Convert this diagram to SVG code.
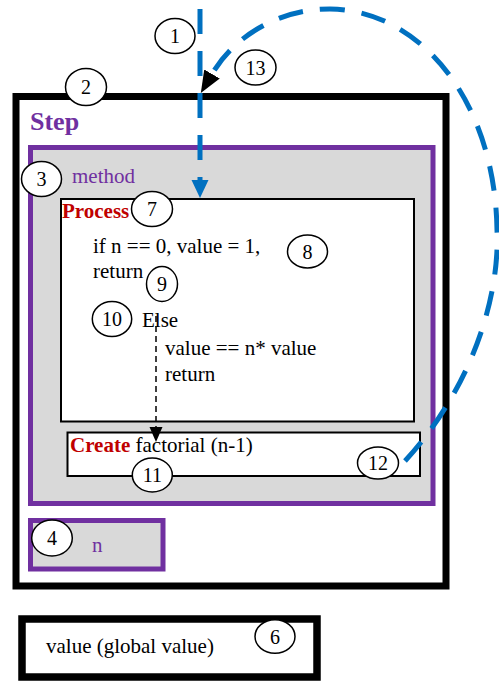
<svg xmlns="http://www.w3.org/2000/svg" width="499" height="681" viewBox="0 0 499 681">
<style>
text{font-family:"Liberation Serif","Times New Roman",serif;font-size:21px;fill:#000}
.purple{fill:#7030a0}
.red{fill:#c00000;font-weight:bold}
.num{font-size:20px;text-anchor:middle}
.circ{fill:#fff;stroke:#000;stroke-width:1.5}
.blk{fill:none;stroke:#000;stroke-width:7}
.pbox{fill:#d9d9d9;stroke:#7030a0;stroke-width:5}
.wbox{fill:#fff;stroke:#000;stroke-width:2}
.blue{fill:none;stroke:#0070c0;stroke-width:5;stroke-dasharray:25 17}
</style>
<defs>
<marker id="ab" markerUnits="userSpaceOnUse" markerWidth="18" markerHeight="18" refX="0" refY="8.5" orient="auto" viewBox="0 0 18 17"><path d="M0,0 L18,8.5 L0,17 z" fill="#0070c0"/></marker>
<marker id="ak" markerUnits="userSpaceOnUse" markerWidth="22" markerHeight="19" refX="0" refY="9" orient="auto" viewBox="0 0 22 18"><path d="M0,0 L22,9 L0,18 z" fill="#000"/></marker>
<marker id="as" markerUnits="userSpaceOnUse" markerWidth="15" markerHeight="14" refX="0" refY="6.5" orient="auto" viewBox="0 0 15 13"><path d="M0,0 L15,6.5 L0,13 z" fill="#000"/></marker>
</defs>
<rect width="499" height="681" fill="#fff"/>

<g id="step">
<rect class="blk" x="16" y="96.5" width="430" height="489.5"/>
<text x="30" y="130" class="purple" style="font-weight:bold;font-size:26px">Step</text>
</g>

<g id="method">
<rect class="pbox" x="30.5" y="147.5" width="402.5" height="356"/>
<text x="72" y="183" class="purple">method</text>
</g>

<g id="process">
<rect class="wbox" x="61" y="199" width="353" height="222.5"/>
<text x="62" y="218" class="red">Process</text>
<text x="93" y="253">if n == 0, value = 1,</text>
<text x="93" y="278">return</text>
<text x="142" y="327">Else</text>
<text x="165" y="355">value == n* value</text>
<text x="165" y="381">return</text>
</g>

<g id="create">
<rect class="wbox" x="67.5" y="432.5" width="352.5" height="43.5"/>
<text x="70" y="452"><tspan class="red">Create</tspan> factorial (n-1)</text>
</g>

<g id="n">
<rect class="pbox" x="30.5" y="520.5" width="132.5" height="48.5"/>
<text x="92" y="552" class="purple">n</text>
</g>

<g id="global">
<rect class="blk" x="22" y="619" width="295" height="58" style="stroke-width:7.5"/>
<text x="46" y="653">value (global value)</text>
</g>

<g id="connectors">
<path class="blue" d="M200,9 L200,180" marker-end="url(#ab)"/>
<path class="blue" d="M405,461 C470,390 500,300 497,230 C495,100 420,10 330,9 C280,9 235,35 212,74" marker-end="url(#ak)"/>
<path d="M156,316 L156,427" fill="none" stroke="#000" stroke-width="1.5" stroke-dasharray="6 4" marker-end="url(#as)"/>
</g>

<g id="labels">
<g id="c1"><ellipse class="circ" cx="175" cy="36" rx="20" ry="17.5"/><text class="num" x="175" y="43">1</text></g>
<g id="c2"><ellipse class="circ" cx="86" cy="87" rx="20.5" ry="18.5"/><text class="num" x="86" y="94">2</text></g>
<g id="c3"><ellipse class="circ" cx="41.5" cy="179" rx="20" ry="17.5"/><text class="num" x="41.5" y="186">3</text></g>
<g id="c4"><ellipse class="circ" cx="52" cy="538" rx="20.3" ry="18"/><text class="num" x="52" y="545">4</text></g>
<g id="c6"><ellipse class="circ" cx="275" cy="636.5" rx="20" ry="16.7"/><text class="num" x="275" y="643.5">6</text></g>
<g id="c7"><ellipse class="circ" cx="152" cy="209" rx="20.5" ry="17.5"/><text class="num" x="152" y="216">7</text></g>
<g id="c8"><ellipse class="circ" cx="307.5" cy="251.5" rx="20" ry="16.5"/><text class="num" x="307.5" y="258.5">8</text></g>
<g id="c9"><ellipse class="circ" cx="162" cy="284" rx="15.5" ry="17.5"/><text class="num" x="162" y="291">9</text></g>
<g id="c10"><ellipse class="circ" cx="112" cy="319" rx="19.7" ry="17.5"/><text class="num" x="112" y="326">10</text></g>
<g id="c11"><ellipse class="circ" cx="152.3" cy="475" rx="20" ry="17"/><text class="num" x="152.3" y="482">11</text></g>
<g id="c12"><ellipse class="circ" cx="378" cy="463" rx="20.5" ry="16"/><text class="num" x="378" y="470">12</text></g>
<g id="c13"><ellipse class="circ" cx="255.5" cy="67.5" rx="20.5" ry="17.5"/><text class="num" x="255.5" y="74.5">13</text></g>
</g>
</svg>
